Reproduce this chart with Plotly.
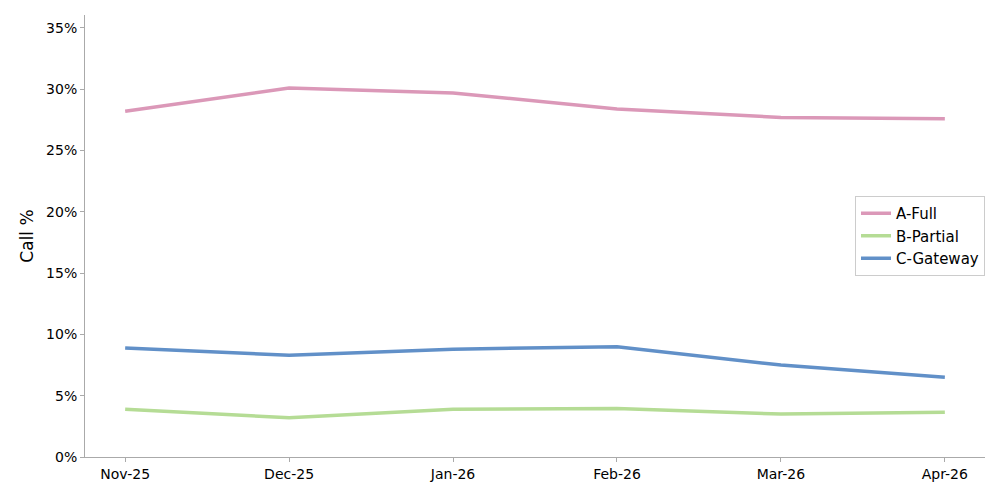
import plotly.graph_objects as go

months = ["Nov-25", "Dec-25", "Jan-26", "Feb-26", "Mar-26", "Apr-26"]
a_full = [0.282, 0.301, 0.297, 0.284, 0.277, 0.276]
b_partial = [0.039, 0.032, 0.039, 0.0395, 0.035, 0.0365]
c_gateway = [0.089, 0.083, 0.088, 0.090, 0.075, 0.065]

series = [("A-Full", a_full, "#db98b8"), ("B-Partial", b_partial, "#b5dc95"), ("C-Gateway", c_gateway, "#6190c8")]

fig = go.Figure()
for name, vals, col in series:
    fig.add_trace(go.Scatter(x=list(range(len(months))), y=vals, name=name, mode="lines",
                             line=dict(color=col, width=3.5)))

fig.update_layout(
    width=1000, height=500, plot_bgcolor="white", paper_bgcolor="white",
    margin=dict(l=77, r=23, t=7, b=51, autoexpand=False),
    font=dict(family="DejaVu Sans", size=14, color="black"),
    legend=dict(x=1.0, y=0.5, xanchor="right", yanchor="middle", bordercolor="#cccccc",
                borderwidth=1, bgcolor="rgba(255,255,255,0.8)", font=dict(size=15)),
    xaxis=dict(tickmode="array", tickvals=list(range(len(months))), ticktext=months,
               range=[-0.245, 5.245], showgrid=False, showline=True, linecolor="#aaaaaa",
               ticks="outside", tickcolor="#aaaaaa", ticklen=4, zeroline=False),
    yaxis=dict(range=[0, 0.3606], tickformat=".0%", dtick=0.05, showgrid=False, showline=True,
               linecolor="#aaaaaa", ticks="outside", tickcolor="#aaaaaa", ticklen=4, zeroline=False,
               title=dict(text="Call %", standoff=8)),
)
fig.write_html("out.html")
